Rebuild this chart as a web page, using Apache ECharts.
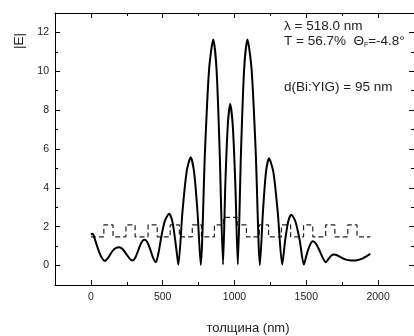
<!DOCTYPE html>
<html><head><meta charset="utf-8">
<script src="https://cdn.jsdelivr.net/npm/echarts@6/dist/echarts.min.js"></script>
<style>html,body{margin:0;padding:0;background:#fff}#c{width:414px;height:336px}</style>
</head><body><div id="c"></div>
<script>
// Tick labels
const xTickLabels = [0, 500, 1000, 1500, 2000];
const xMinorTicks = [250, 750, 1250, 1750];
const yTickLabels = [0, 2, 4, 6, 8, 10, 12];
const yMinorTicks = [1, 3, 5, 7, 9, 11];

// |E| along the structure (thickness, nm)
const fieldX = [0, 12, 30, 50, 72, 97, 122, 150, 175, 197, 222, 248, 270, 290, 310, 333, 353, 371, 390, 410, 432, 452,
  472, 492, 515, 545, 568, 588, 600, 609, 638, 667, 695, 718, 742, 765, 794, 823, 852, 875, 897, 920,
  936, 953, 970, 988, 1006, 1023, 1045, 1067, 1090, 1119, 1148, 1177, 1198, 1219, 1240, 1271, 1301, 1332,
  1353, 1374, 1395, 1424, 1454, 1483, 1502, 1522, 1545, 1570, 1595, 1616, 1636, 1655, 1675, 1695, 1718,
  1742, 1770, 1800, 1830, 1860, 1890, 1918, 1946];
const fieldY = [1.60, 1.64, 1.30, 0.85, 0.45, 0.24, 0.42, 0.75, 0.91, 0.94, 0.84, 0.58, 0.36, 0.26, 0.42, 0.85, 1.20, 1.33, 1.24, 0.90, 0.42, 0.17,
  0.70, 1.55, 2.30, 2.67, 2.25, 1.25, 0.55, 0.05, 2.80, 4.85, 5.57, 4.85, 2.80, 0.03, 5.80, 10.10, 11.64, 10.10, 5.80, 0.05,
  4.15, 7.20, 8.31, 7.20, 4.15, 0.05, 5.80, 10.10, 11.64, 10.10, 5.80, 0.03, 2.76, 4.80, 5.52, 4.80, 2.76, 0.05,
  1.31, 2.27, 2.62, 2.27, 1.31, 0.05, 0.55, 1.00, 1.25, 1.10, 0.72, 0.38, 0.17, 0.35, 0.52, 0.57, 0.52,
  0.42, 0.32, 0.27, 0.26, 0.29, 0.36, 0.47, 0.60];

// Layer structure (refractive index profile, dashed)
const layerEdges = [0, 90, 154, 244, 308, 398, 462, 552, 616, 706, 770, 860, 924, 1019,
  1083, 1173, 1237, 1327, 1391, 1481, 1545, 1635, 1699, 1789, 1853, 1946];
const layerIndex = [1.48, 2.09, 1.48, 2.09, 1.48, 2.09, 1.48, 2.09, 1.48, 2.09, 1.48, 2.09, 2.48,
  2.09, 1.48, 2.09, 1.48, 2.09, 1.48, 2.09, 1.48, 2.09, 1.48, 2.09, 1.48];

const fieldData = fieldX.map((x, i) => [x, fieldY[i]]);
const indexData = [];
layerIndex.forEach((n, i) => { indexData.push([layerEdges[i], n]); indexData.push([layerEdges[i + 1], n]); });

const F = 'Arial, "Liberation Sans", Helvetica, sans-serif';
const XMIN = -250, XMAX = 2250, YMIN = -1, YMAX = 13;

function xAx(pos, ticks, len, showLabel, showLine) {
  return {
    type: 'value', position: pos, min: XMIN, max: XMAX,
    axisLine: { show: showLine, onZero: false, lineStyle: { color: '#000', width: 1 } },
    axisTick: { show: true, inside: true, length: len, customValues: ticks, lineStyle: { color: '#000', width: 1 } },
    axisLabel: { show: showLabel, customValues: ticks, formatter: v => String(v), fontSize: 10.5, color: '#222', margin: 7, fontFamily: F },
    splitLine: { show: false }
  };
}
function yAx(pos, ticks, len, showLabel, showLine) {
  return {
    type: 'value', position: pos, min: YMIN, max: YMAX,
    axisLine: { show: showLine, onZero: false, lineStyle: { color: '#000', width: 1 } },
    axisTick: { show: true, inside: true, length: len, customValues: ticks, lineStyle: { color: '#000', width: 1 } },
    axisLabel: { show: showLabel, customValues: ticks, formatter: v => String(v), fontSize: 10.5, color: '#222', margin: 6, fontFamily: F },
    splitLine: { show: false }
  };
}

const chart = echarts.init(document.getElementById('c'), null, { renderer: 'canvas' });
chart.setOption({
  animation: false,
  backgroundColor: '#fff',
  grid: { left: 55, top: 13, width: 360, height: 272, containLabel: false },
  xAxis: [
    xAx('bottom', xTickLabels, 5, true, true),
    xAx('bottom', xMinorTicks, 3, false, false),
    xAx('top', xTickLabels, 5, false, true),
    xAx('top', xMinorTicks, 3, false, false)
  ],
  yAxis: [
    yAx('left', yTickLabels, 5, true, true),
    yAx('left', yMinorTicks, 3, false, false),
    yAx('right', yTickLabels, 5, false, true),
    yAx('right', yMinorTicks, 3, false, false)
  ],
  series: [
    { type: 'line', xAxisIndex: 0, yAxisIndex: 0, data: indexData, showSymbol: false, silent: true,
      lineStyle: { color: '#222', width: 1.2, type: [5, 3] }, z: 2 },
    { type: 'line', xAxisIndex: 0, yAxisIndex: 0, data: fieldData, showSymbol: false, silent: true, smooth: 0.25,
      lineStyle: { color: '#000', width: 2 }, z: 3 }
  ],
  graphic: [
    { type: 'text', x: 19, y: 41, rotation: Math.PI / 2,
      style: { text: '|E|', font: '13.5px ' + F, fill: '#222', align: 'center', verticalAlign: 'middle' } },
    { type: 'text', x: 248, y: 328,
      style: { text: 'толщина (nm)', font: '13px ' + F, fill: '#222', align: 'center', verticalAlign: 'middle' } },
    { type: 'text', x: 284, y: 26,
      style: { text: 'λ = 518.0 nm', font: '13.5px ' + F, fill: '#222', align: 'left', verticalAlign: 'middle' } },
    { type: 'text', x: 284, y: 41,
      style: { text: 'T = 56.7%  Θ{s|F}=-4.8°', font: '13.5px ' + F, fill: '#222', align: 'left', verticalAlign: 'middle',
        rich: { s: { fontSize: 7, fontFamily: F, fill: '#222', padding: [9, 0, 0, 0] } } } },
    { type: 'text', x: 284, y: 87,
      style: { text: 'd(Bi:YIG) = 95 nm', font: '13.5px ' + F, fill: '#222', align: 'left', verticalAlign: 'middle' } }
  ]
});
</script>
</body></html>
